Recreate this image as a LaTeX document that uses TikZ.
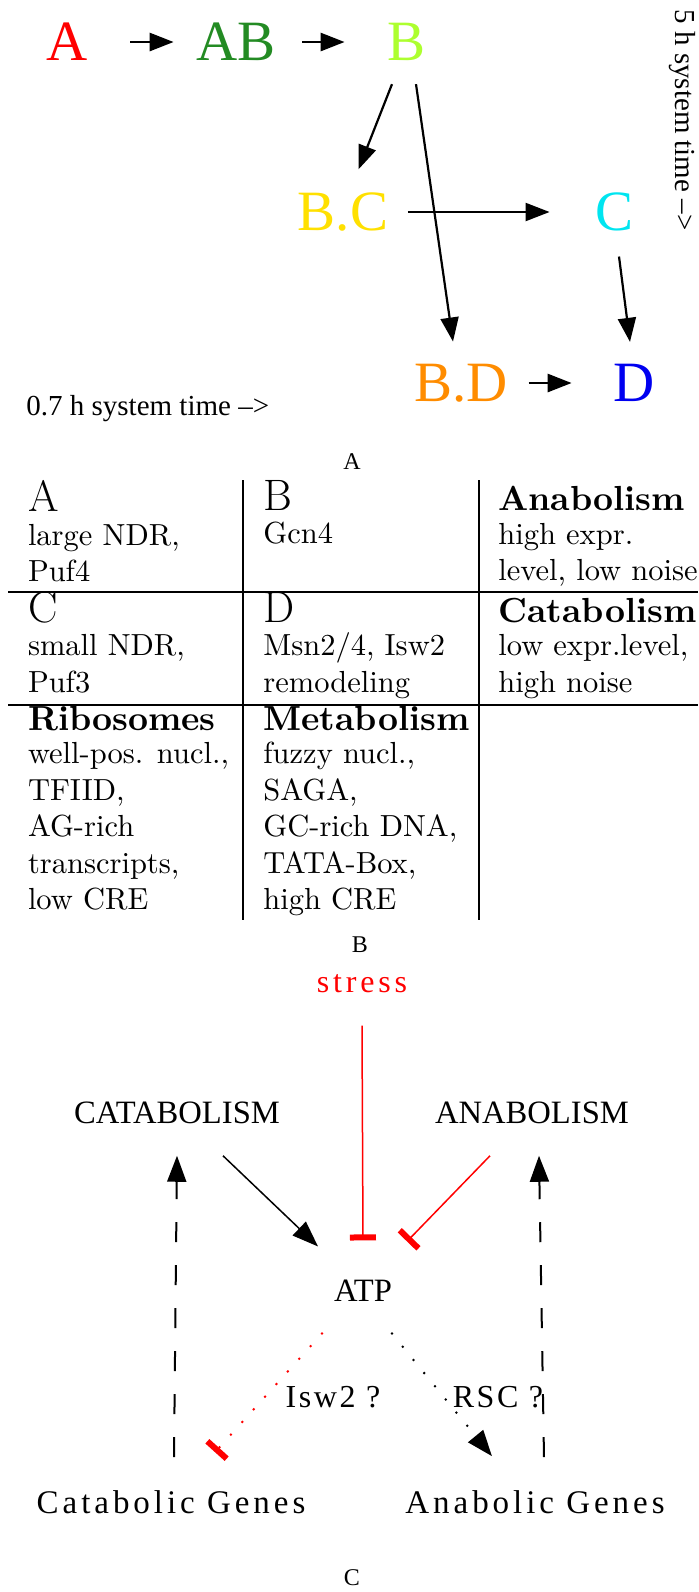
\documentclass[tikz,border=0pt]{standalone}
\usepackage{fontspec}
\usepackage{xcolor}
\usepackage{tikz}
\usetikzlibrary{arrows.meta}
\newfontfamily\timesfont{Liberation Serif}
\newfontfamily\spacedfont[LetterSpace=12]{Liberation Serif}
\newfontfamily\qfont[LetterSpace=8]{Liberation Serif}
\newfontfamily\cmten{lmroman10-regular.otf}[BoldFont=lmroman10-bold.otf]
\definecolor{stA}{HTML}{FF0000}
\definecolor{stAB}{HTML}{238B23}
\definecolor{stB}{HTML}{ADFF2F}
\definecolor{stBC}{HTML}{FFE000}
\definecolor{stC}{HTML}{00E5F0}
\definecolor{stBD}{HTML}{FF8C00}
\definecolor{stD}{HTML}{0000F0}
\newcommand{\cellhead}[1]{{\bfseries\fontsize{17.4}{20}\selectfont #1}}
\newcommand{\cellletter}[1]{{\rmfamily\fontsize{22}{24}\selectfont #1}}

\begin{document}
\begin{tikzpicture}[x=0.5pt,y=-0.5pt,
  state/.style={inner sep=0pt,font=\timesfont\fontsize{28.5}{30}\selectfont},
  flow/.style={-{Triangle[length=12pt,width=9pt]},line width=1.1pt},
  tlabel/.style={inner sep=0pt,font=\timesfont\fontsize{14.5}{16}\selectfont},
  capt/.style={inner sep=0pt,font=\timesfont\fontsize{12}{14}\selectfont},
  cell/.style={anchor=north west,inner sep=0pt,align=left,font=\cmten\fontsize{15.25}{18.25}\selectfont},
  rule/.style={line width=0.8pt},
  lab/.style={inner sep=0pt,font=\timesfont\fontsize{16.3}{18}\selectfont},
  gene/.style={inner sep=0pt,font=\spacedfont\fontsize{16.5}{18}\selectfont},
  qlab/.style={inner sep=0pt,anchor=base,font=\qfont\fontsize{16}{18}\selectfont},
  act/.style={-{Triangle[length=13pt,width=9.5pt]},line width=0.75pt},
  inhib/.style={red,-{Bar[width=13pt,line width=3pt]},line width=0.75pt},
  fback/.style={-{Triangle[length=13pt,width=9.5pt]},line width=1pt,dash pattern=on 10pt off 11.5pt},
  dots/.style={line width=1.4pt,line cap=round,dash pattern=on 0pt off 8.5pt}]
  \useasboundingbox (0,0) rectangle (698,1592);

  % A: states over system time
  \node[state,text=stA] (nA) at (67,42) {A};
  \node[state,text=stAB] (nAB) at (236,42) {AB};
  \node[state,text=stB] (nB) at (407,42) {B};
  \node[state,text=stBC] (nBC) at (343,212) {B.C};
  \node[state,text=stC] (nC) at (615,212) {C};
  \node[state,text=stBD] (nBD) at (461,383) {B.D};
  \node[state,text=stD] (nD) at (634,383) {D};
  \draw[flow,line width=1.4pt,shorten <=21.2pt,shorten >=11.2pt] (nA) -- (nAB);
  \draw[flow,line width=1.4pt,shorten <=13.2pt,shorten >=21.5pt] (nAB) -- (nB);
  \draw[flow] ([xshift=-7.5pt,yshift=-11.5pt]nB.south) -- ([xshift=7.75pt,yshift=11.5pt]nBC.north);
  \draw[flow] ([xshift=4.5pt,yshift=-11.5pt]nB.south) -- ([xshift=-4pt,yshift=11pt]nBD.north);
  \draw[flow,shorten <=9.7pt,shorten >=23pt] (nBC) -- (nC);
  \draw[flow] ([xshift=2pt,yshift=-12.5pt]nC.south) -- ([xshift=-2pt,yshift=11pt]nD.north);
  \draw[flow,line width=1.4pt,shorten <=10.2pt,shorten >=20.7pt] (nBD) -- (nD);
  \node[tlabel,anchor=base west] (fast) at (26,415) {0.7 h system time \textendash>};
  \node[tlabel,rotate=-90] (slow) at (682,120) {5 h system time \textendash>};
  \node[capt] (capA) at (352,462) {A};

  % B: table
  \draw[rule] (243,480) -- (243,920);
  \draw[rule] (479,480) -- (479,920);
  \draw[rule] (8,592) -- (698,592);
  \draw[rule] (8,705) -- (698,705);
  \node[cell] (cellA) at (27.6,480) {\cellletter{A}\\[-1.5pt] large NDR,\\ Puf4};
  \node[cell] (cellB) at (263,480) {\cellletter{B}\\[-1.5pt] Gcn4};
  \node[cell] (cellAna) at (498,485.8) {\cellhead{Anabolism}\\[-1.5pt] high expr.\\ level, low noise};
  \node[cell] (cellC) at (27.6,591) {\cellletter{C}\\[-1.5pt] small NDR,\\ Puf3};
  \node[cell] (cellD) at (263,592) {\cellletter{D}\\[-1.5pt] Msn2/4, Isw2\\ remodeling};
  \node[cell] (cellCat) at (498,597.8) {\cellhead{Catabolism}\\[-1.5pt] low expr.level,\\ high noise};
  \node[cell] (cellRib) at (27.6,705.8) {\cellhead{Ribosomes}\\[-1.5pt] well-pos. nucl.,\\ TFIID,\\ AG-rich\\ transcripts,\\ low CRE};
  \node[cell] (cellMet) at (263,705.8) {\cellhead{Metabolism}\\[-1.5pt] fuzzy nucl.,\\ SAGA,\\ GC-rich DNA,\\ TATA-Box,\\ high CRE};
  \node[capt] (capB) at (360,945) {B};

  % C: ATP loop
  \node[inner sep=0pt,anchor=base,text=red,font=\spacedfont\fontsize{16}{18}\selectfont] (stress) at (362,992) {stress};
  \node[lab] (cata) at (177,1113) {CATABOLISM};
  \node[lab] (ana) at (532,1113) {ANABOLISM};
  \node[lab] (atp) at (363,1291) {ATP};
  \node[gene] (catgenes) at (171,1502) {Catabolic Genes};
  \node[gene] (anagenes) at (535,1502) {Anabolic Genes};
  \node[qlab] (isw) at (333,1407) {Isw2 ?};
  \node[qlab] (rsc) at (498,1407) {RSC ?};
  \draw[inhib] ([yshift=-16.5pt]stress.south) -- ([yshift=19.7pt]atp.north);
  \draw[act] ([xshift=23pt,yshift=-15.7pt]cata.south) -- ([xshift=-22.5pt,yshift=16.7pt]atp.north);
  \draw[inhib] ([xshift=-21pt,yshift=-15.7pt]ana.south) -- ([xshift=22pt,yshift=19.2pt]atp.north);
  \draw[fback] ([xshift=1.5pt,yshift=16.4pt]catgenes.north) -- ([yshift=-15.7pt]cata.south);
  \draw[fback] ([xshift=4.5pt,yshift=16.4pt]anagenes.north) -- ([xshift=3.5pt,yshift=-15.7pt]ana.south);
  \draw[dots,red,-{Bar[width=13pt,line width=3pt]}] ([xshift=-20.5pt,yshift=-15.7pt]atp.south) -- ([xshift=22pt,yshift=18.9pt]catgenes.north);
  \draw[dots,-{Triangle[length=13pt,width=9.5pt]}] ([xshift=14.5pt,yshift=-15.7pt]atp.south) -- ([xshift=-21.5pt,yshift=16.9pt]anagenes.north);
  \node[capt] (capC) at (352,1578) {C};
\end{tikzpicture}
\end{document}
